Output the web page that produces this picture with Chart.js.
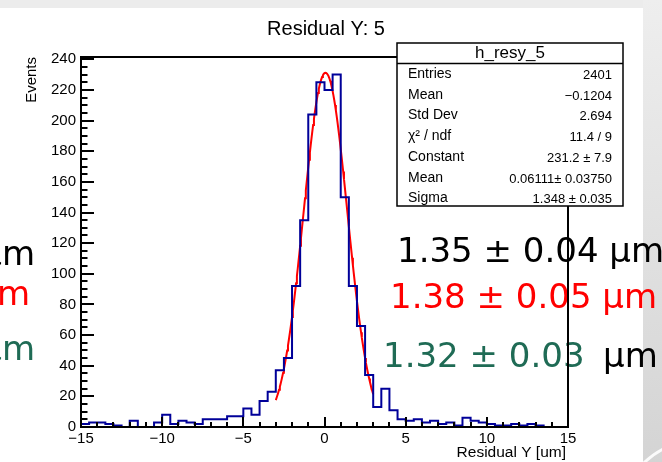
<!DOCTYPE html>
<html>
<head>
<meta charset="utf-8">
<script src="https://cdn.jsdelivr.net/npm/chart.js@4.4.0/dist/chart.umd.min.js"></script>
<style>
  html, body { margin: 0; padding: 0; background: #ececec; }
  #wrap { width: 662px; height: 462px; }
</style>
</head>
<body>
<div id="wrap"><canvas id="chart" width="662" height="462"></canvas></div>
<script>
// h_resy_5: residual Y, 0.5 um bins from -15 to 15
const BIN_LOW = -15;
const BIN_WIDTH = 0.5;
const counts = [
  2, 3, 3, 2, 1, 0, 4, 0, 0, 3,
  8, 2, 4, 3, 2, 5, 5, 5, 7, 7,
  12, 8, 17, 23, 37, 45, 92, 135, 204, 225,
  220, 230, 150, 92, 66, 34, 13, 25, 11, 5,
  4, 5, 3, 4, 2, 3, 1, 6, 4, 3,
  2, 1, 1, 2, 1, 2, 1, 0, 0, 0
];

// gaussian fit result (from the stats box)
const FIT_CONST = 231.2;
const FIT_MEAN = 0.06111;
const FIT_SIGMA = 1.348;
const FIT_RANGE = [-3, 3];

const xLabels = [-15, -10, -5, 0, 5, 10, 15];
const yLabels = [0, 20, 40, 60, 80, 100, 120, 140, 160, 180, 200, 220, 240];
const Y_MAX = 241.5;

const statsTitle = "h_resy_5";
const statsLabels = ["Entries", "Mean", "Std Dev", "\u03C7\u00B2 / ndf", "Constant", "Mean", "Sigma"];
const statsValues = ["2401", "\u22120.1204", "2.694", "11.4 / 9", "231.2 \u00B1 7.9", "0.06111\u00B1 0.03750", "1.348 \u00B1 0.035"];

// resolution notes written across the slide
const notes = [
  { parts: [["1.35 \u00B1 0.04 \u03BCm", "#000000", 397]], y: 262 },
  { parts: [["1.38 \u00B1 0.05 \u03BCm", "#ff0000", 390]], y: 308 },
  { parts: [["1.32 \u00B1 0.03", "#1f6b55", 383], ["\u03BCm", "#000000", 603]], y: 367 }
];
const leftNotes = [
  { text: "\u03BCm", color: "#000000", x: 35, y: 265 },
  { text: "\u03BCm", color: "#ff0000", x: 30, y: 305 },
  { text: "\u03BCm", color: "#1f6b55", x: 35, y: 360 }
];

const HELV = "'Liberation Sans', Arial, sans-serif";
const NOTE_FONT = "34px 'DejaVu Sans', sans-serif";

const histPoints = counts.map((c, i) => ({ x: BIN_LOW + i * BIN_WIDTH, y: c }));
histPoints.push({ x: BIN_LOW + counts.length * BIN_WIDTH, y: counts[counts.length - 1] });

const fitPoints = [];
for (let i = 0; i <= 120; i++) {
  const x = FIT_RANGE[0] + (FIT_RANGE[1] - FIT_RANGE[0]) * i / 120;
  const z = (x - FIT_MEAN) / FIT_SIGMA;
  fitPoints.push({ x: x, y: FIT_CONST * Math.exp(-0.5 * z * z) });
}

const rootPad = {
  id: "rootPad",
  beforeDraw(chart) {
    const ctx = chart.ctx;
    ctx.save();
    ctx.fillStyle = "#ececec";
    ctx.fillRect(0, 0, 662, 462);
    const g = ctx.createLinearGradient(0, 0, 0, 462);
    g.addColorStop(0, "#eeeeee");
    g.addColorStop(1, "#d4d4d4");
    ctx.fillStyle = g;
    ctx.fillRect(643, 0, 19, 462);
    ctx.strokeStyle = "rgba(255,255,255,0.9)";
    ctx.lineWidth = 3;
    ctx.beginPath();
    ctx.arc(700, 520, 80, Math.PI * 1.05, Math.PI * 1.35);
    ctx.stroke();
    ctx.fillStyle = "#ffffff";
    ctx.fillRect(0, 8, 643, 454);

    ctx.font = NOTE_FONT;
    ctx.textBaseline = "alphabetic";
    ctx.textAlign = "left";
    for (const n of notes) {
      for (const [t, c, x] of n.parts) {
        ctx.fillStyle = c;
        ctx.fillText(t, x, n.y);
      }
    }
    ctx.textAlign = "right";
    for (const n of leftNotes) {
      ctx.fillStyle = n.color;
      ctx.fillText(n.text, n.x, n.y);
    }
    ctx.restore();
  },
  afterDatasetsDraw(chart) {
    const ctx = chart.ctx;
    const { left, right, top, bottom } = chart.chartArea;
    const xs = chart.scales.x, ys = chart.scales.y;
    ctx.save();
    ctx.strokeStyle = "#000";
    ctx.lineWidth = 2;
    ctx.strokeRect(left, top, right - left, bottom - top);
    ctx.beginPath();
    for (let v = -15; v <= 15; v += 1) {
      const px = Math.round(xs.getPixelForValue(v));
      const len = xLabels.includes(v) ? 10 : 5;
      ctx.moveTo(px, bottom);
      ctx.lineTo(px, bottom - len);
    }
    for (let v = 0; v <= Y_MAX; v += 5) {
      const py = Math.round(ys.getPixelForValue(v));
      const len = yLabels.includes(v) ? 13 : 6.5;
      ctx.moveTo(left, py);
      ctx.lineTo(left + len, py);
    }
    ctx.stroke();
    ctx.restore();
  },
  afterDraw(chart) {
    const ctx = chart.ctx;
    const { top, right } = chart.chartArea;
    ctx.save();
    ctx.fillStyle = "#000";
    ctx.textBaseline = "alphabetic";

    ctx.font = "20px " + HELV;
    ctx.textAlign = "center";
    ctx.fillText("Residual Y: 5", 326, 35);

    ctx.font = "15.5px " + HELV;
    ctx.textAlign = "right";
    ctx.fillText("Residual Y [um]", right - 2, 457);

    ctx.save();
    ctx.translate(36, top);
    ctx.rotate(-Math.PI / 2);
    ctx.font = "15px " + HELV;
    ctx.textAlign = "right";
    ctx.fillText("Events", 0, 0);
    ctx.restore();

    // stats box
    const bx = 397, by = 43, bw = 226, bh = 163;
    ctx.fillStyle = "#fff";
    ctx.fillRect(bx, by, bw, bh);
    ctx.strokeStyle = "#000";
    ctx.lineWidth = 1.5;
    ctx.strokeRect(bx, by, bw, bh);
    ctx.beginPath();
    ctx.moveTo(bx, 63.5);
    ctx.lineTo(bx + bw, 63.5);
    ctx.stroke();
    ctx.fillStyle = "#000";
    ctx.font = "17px " + HELV;
    ctx.textAlign = "center";
    ctx.fillText(statsTitle, bx + bw / 2, 58);
    for (let i = 0; i < statsLabels.length; i++) {
      const y = 78 + i * 20.7;
      ctx.font = "14px " + HELV;
      ctx.textAlign = "left";
      ctx.fillText(statsLabels[i], 408, y);
      ctx.font = "13px " + HELV;
      ctx.textAlign = "right";
      ctx.fillText(statsValues[i], bx + bw - 11, y + 1);
    }
    ctx.restore();
  }
};

new Chart(document.getElementById("chart"), {
  type: "line",
  data: {
    datasets: [
      {
        data: histPoints,
        stepped: "before",
        borderColor: "#000099",
        borderWidth: 2,
        pointRadius: 0,
        fill: false
      },
      {
        data: fitPoints,
        borderColor: "#ff0000",
        borderWidth: 2,
        pointRadius: 0,
        tension: 0,
        fill: false
      }
    ]
  },
  options: {
    responsive: false,
    animation: false,
    layout: { padding: { top: 57, right: 94, left: 0, bottom: 0 } },
    plugins: {
      legend: { display: false },
      tooltip: { enabled: false },
      title: { display: false }
    },
    scales: {
      x: {
        type: "linear",
        min: -15,
        max: 15,
        grid: { display: false, drawTicks: false },
        border: { display: false },
        afterBuildTicks: (s) => { s.ticks = xLabels.map((v) => ({ value: v })); },
        afterFit: (s) => { s.height = 35; },
        ticks: {
          font: { family: HELV, size: 15 },
          color: "#000",
          padding: 3,
          autoSkip: false,
          maxRotation: 0,
          callback: (v) => String(v).replace("-", "\u2212")
        }
      },
      y: {
        min: 0,
        max: Y_MAX,
        grid: { display: false, drawTicks: false },
        border: { display: false },
        afterBuildTicks: (s) => { s.ticks = yLabels.map((v) => ({ value: v })); },
        afterFit: (s) => { s.width = 81; },
        ticks: {
          font: { family: HELV, size: 15 },
          color: "#000",
          padding: 5,
          autoSkip: false
        }
      }
    }
  },
  plugins: [rootPad]
});
</script>
</body>
</html>
